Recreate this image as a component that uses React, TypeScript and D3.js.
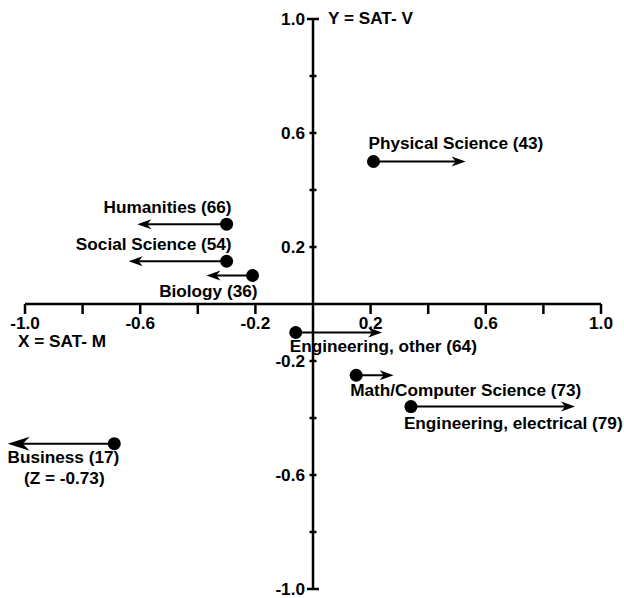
import React from "react";
import * as d3 from "d3";

// fields: label, x (SAT-M), y (SAT-V), arrow end (x + Z effect)
const fields = ["Physical Science (43)", "Humanities (66)", "Social Science (54)", "Biology (36)", "Engineering, other (64)", "Math/Computer Science (73)", "Engineering, electrical (79)", "Business (17)"];
const satM = [0.21, -0.3, -0.3, -0.21, -0.06, 0.15, 0.34, -0.69];
const satV = [0.5, 0.28, 0.15, 0.1, -0.1, -0.25, -0.36, -0.49];
const arrowEnd = [0.53, -0.61, -0.64, -0.37, 0.24, 0.28, 0.91, -1.06];
const tickValues = [-1.0, -0.8, -0.6, -0.4, -0.2, 0.2, 0.4, 0.6, 0.8, 1.0];
const labelTicks = [-1.0, -0.6, -0.2, 0.2, 0.6, 1.0];

// label placement: anchor, dx, dy relative to dot
const labelPos: [string, number, number][] = [
  ["start", -5, -13],
  ["end", 5, -11],
  ["end", 5, -11],
  ["end", 5, 21],
  ["start", -6, 19],
  ["start", -6, 21],
  ["start", -7, 22],
  ["end", 5, 19],
];

const W = 624;
const H = 598;
const font = "'Liberation Sans', Arial, sans-serif";
const fs = 17.2;

export default function App() {
  const x = d3.scaleLinear().domain([-1, 1]).range([25, 601]);
  const y = d3.scaleLinear().domain([-1, 1]).range([589, 19]);
  const x0 = x(0);
  const y0 = y(0);

  const head = (tx: number, ty: number, dir: number, big: boolean) => {
    const L = big ? 22 : 14;
    const hw = big ? 7 : 5;
    const n = big ? 15 : 10;
    return `M${tx},${ty} L${tx - dir * L},${ty - hw} L${tx - dir * n},${ty} L${tx - dir * L},${ty + hw} Z`;
  };

  return (
    <svg width={W} height={H} style={{ position: "absolute", left: 0, top: 0, background: "#fff" }} fontFamily={font} fontWeight="bold">
      {/* x axis */}
      <line x1={x(-1)} x2={x(1)} y1={y0} y2={y0} stroke="#000" strokeWidth={2.5} />
      {tickValues.map((t) => (
        <line key={"xt" + t} x1={x(t)} x2={x(t)} y1={y0} y2={y0 + 10} stroke="#000" strokeWidth={2.5} />
      ))}
      {labelTicks.map((t) => (
        <text key={"xl" + t} x={x(t)} y={y0 + 25} textAnchor="middle" fontSize={fs}>
          {t.toFixed(1)}
        </text>
      ))}
      <text x={18} y={y0 + 43} fontSize={fs}>X = SAT- M</text>

      {/* y axis */}
      <line x1={x0} x2={x0} y1={y(1)} y2={y(-1)} stroke="#000" strokeWidth={2.5} />
      {tickValues.map((t) => {
        const w = Math.abs(t) === 1 ? 6 : 3.5;
        return <line key={"yt" + t} x1={x0 - w} x2={x0 + w} y1={y(t)} y2={y(t)} stroke="#000" strokeWidth={2.5} />;
      })}
      {labelTicks.map((t) => (
        <text key={"yl" + t} x={x0 - 8} y={y(t) + 6} textAnchor="end" fontSize={fs}>
          {t.toFixed(1)}
        </text>
      ))}
      <text x={x0 + 15} y={y(1) + 5} fontSize={fs}>Y = SAT- V</text>

      {/* arrows and points */}
      {fields.map((f, i) => {
        const px = x(satM[i]);
        const py = y(satV[i]);
        const ex = x(arrowEnd[i]);
        const dir = ex > px ? 1 : -1;
        const big = i === fields.length - 1;
        const [anchor, dx, dy] = labelPos[i];
        return (
          <g key={f}>
            <line x1={px} x2={ex - dir * (big ? 14 : 9)} y1={py} y2={py} stroke="#000" strokeWidth={2} />
            <path d={head(ex, py, dir, big)} fill="#000" />
            <circle cx={px} cy={py} r={6.5} fill="#000" />
            <text x={px + dx} y={py + dy} textAnchor={anchor} fontSize={fs}>
              {f}
            </text>
            {big && (
              <text x={px - 50} y={py + 40} textAnchor="middle" fontSize={fs}>
                (Z = -0.73)
              </text>
            )}
          </g>
        );
      })}
    </svg>
  );
}
